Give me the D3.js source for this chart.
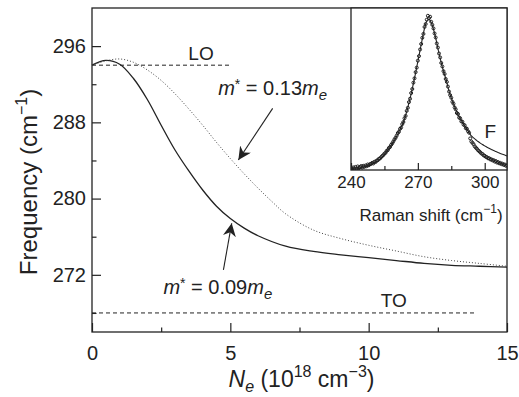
<!DOCTYPE html>
<html>
<head>
<meta charset="utf-8">
<script src="https://cdn.jsdelivr.net/npm/d3@7"></script>
<style>
  body { margin: 0; background: #fff; }
  svg { display: block; font-family: "Liberation Sans", Arial, Helvetica, sans-serif; }
</style>
</head>
<body>
<div id="chart"></div>
<script>
// carrier density (10^18 cm^-3) and coupled mode frequency (cm^-1)
const neSolid = [0, 0.5, 1, 1.5, 2, 2.5, 3, 3.5, 4, 4.5, 5, 5.5, 6, 7, 8, 9, 10, 11, 12, 13, 14, 15];
const fSolid  = [294.0, 294.5, 294.1, 292.6, 290.4, 287.7, 285.1, 282.9, 280.9, 279.2, 277.9, 276.9, 276.1, 275.0, 274.45, 274.1, 273.8, 273.5, 273.2, 273.0, 272.9, 272.8];
const neDot   = [0, 0.5, 1, 1.5, 2, 2.5, 3, 3.5, 4, 4.5, 5, 5.5, 6, 6.5, 7, 8, 9, 10, 11, 12, 13, 14, 15];
const fDot    = [294.0, 294.45, 294.65, 294.3, 293.5, 292.4, 291.0, 289.4, 287.7, 285.9, 284.2, 282.6, 281.1, 279.7, 278.4, 276.7, 275.8, 275.1, 274.5, 273.9, 273.5, 273.2, 272.9];
const LO = 294, TO = 268;
const loEnd = 5, toEnd = 13.9;
const xTicks = [0, 5, 10, 15], xMinor = [2.5, 7.5, 12.5];
const yTicks = [272, 280, 288, 296], yMinor = [268, 276, 284, 292];

// inset: Raman spectrum, fit line F
const fitShift = d3.range(240, 311);
const fitInt = [0.3, 0.4, 0.6, 0.8, 1.0, 1.3, 1.7, 2.1, 2.6, 3.2, 3.9, 4.7, 5.6, 6.7, 8.0, 9.5, 11.2, 13.0, 15.0, 17.2,
  19.6, 22.2, 25.0, 27.8, 31.5, 36.0, 41.5, 47.0, 53.5, 60.0, 67.0, 74.0, 81.0, 87.5, 92.0, 93.0, 91.0, 87.0, 81.5, 75.0,
  69.0, 63.5, 58.8, 54.0, 48.6, 44.5, 40.8, 37.3, 34.3, 31.8, 29.5, 27.3, 25.3, 23.1, 21.0, 19.8, 18.7, 17.6, 16.6, 15.7,
  14.9, 14.1, 13.4, 12.7, 12.0, 11.4, 10.8, 10.2, 9.7, 9.2, 8.7];
const dataShift = d3.range(240, 310.25, 0.5);
const dataInt = [1.2, 0.5, 1.6, 0.8, 1.9, 1.0, 2.2, 1.1, 1.8, 2.4, 1.5, 2.6, 1.9, 2.8, 2.3, 3.4, 2.9, 3.6, 3.8, 4.4,
  4.0, 5.1, 4.9, 5.8, 6.0, 6.9, 7.1, 7.9, 8.6, 9.2, 10.1, 10.6, 11.8, 12.3, 13.6, 14.2, 15.5, 16.4, 17.6, 18.9,
  19.9, 21.2, 22.8, 23.6, 25.4, 26.2, 28.3, 29.6, 31.9, 33.4, 36.5, 38.4, 41.9, 44.0, 47.5, 50.0, 53.9, 56.6, 60.4, 63.2,
  67.5, 70.3, 74.4, 77.8, 81.6, 84.0, 88.3, 90.1, 92.8, 95.2, 93.8, 94.6, 91.5, 89.6, 87.4, 84.3, 81.8, 78.1, 75.6, 71.9,
  69.5, 66.1, 63.9, 61.0, 59.3, 56.2, 54.4, 51.5, 48.4, 46.2, 44.6, 42.1, 40.9, 38.6, 37.4, 35.2, 34.6, 32.4, 31.9, 30.0,
  29.8, 28.0, 27.6, 25.8, 25.5, 23.9, 23.0, 19.5, 17.6, 16.8, 15.9, 14.6, 13.8, 13.1, 12.2, 11.6, 10.9, 10.2, 9.9, 9.0,
  8.8, 8.1, 7.9, 7.2, 7.3, 6.5, 6.6, 5.9, 6.1, 5.2, 5.5, 4.6, 4.9, 4.1, 4.4, 3.6, 3.9, 3.1, 3.4, 2.6, 2.9];
const insetTicks = [240, 270, 300], insetMinor = [255, 285];

const W = 519, H = 397;
const m = {l: 92, r: 507, t: 8, b: 332};
const ink = '#222';

const svg = d3.select('#chart').append('svg').attr('width', W).attr('height', H);

const x = d3.scaleLinear().domain([0, 15]).range([m.l, m.r]);
const y = d3.scaleLinear().domain([266, 300]).range([m.b, m.t]);

svg.append('defs').append('marker')
  .attr('id', 'head').attr('viewBox', '0 0 10 10').attr('refX', 10).attr('refY', 5)
  .attr('markerWidth', 13).attr('markerHeight', 13).attr('markerUnits', 'userSpaceOnUse')
  .attr('orient', 'auto')
  .append('path').attr('d', 'M0,0 L10,5 L0,10 L3,5 Z').attr('fill', ink);

// axes with inward ticks
svg.append('g').attr('transform', `translate(0,${m.b})`)
  .call(d3.axisBottom(x).tickValues(xTicks).tickSize(-9).tickPadding(14).tickFormat(d3.format('d')));
svg.append('g').attr('transform', `translate(0,${m.b})`)
  .call(d3.axisBottom(x).tickValues(xMinor).tickSize(-4.5).tickFormat(''));
svg.append('g').attr('transform', `translate(${m.l},0)`)
  .call(d3.axisLeft(y).tickValues(yTicks).tickSize(-9).tickPadding(6));
svg.append('g').attr('transform', `translate(${m.l},0)`)
  .call(d3.axisLeft(y).tickValues(yMinor).tickSize(-4.5).tickFormat(''));
svg.selectAll('.domain').remove();
svg.selectAll('.tick line').attr('stroke', ink).attr('stroke-width', 1.2);
svg.selectAll('.tick text').attr('font-size', 20).attr('fill', ink).attr('font-family', null);

svg.append('rect').attr('x', m.l).attr('y', m.t).attr('width', m.r - m.l).attr('height', m.b - m.t)
  .attr('fill', 'none').attr('stroke', ink).attr('stroke-width', 1.3);

// LO / TO reference lines
svg.append('line').attr('x1', x(0)).attr('x2', x(loEnd)).attr('y1', y(LO)).attr('y2', y(LO))
  .attr('stroke', ink).attr('stroke-width', 1).attr('stroke-dasharray', '4,3');
svg.append('line').attr('x1', x(0)).attr('x2', x(toEnd)).attr('y1', y(TO)).attr('y2', y(TO))
  .attr('stroke', ink).attr('stroke-width', 1).attr('stroke-dasharray', '4,3');
svg.append('text').attr('x', x(3.94)).attr('y', y(294.55)).attr('text-anchor', 'middle')
  .attr('font-size', 19).attr('fill', ink).text('LO');
svg.append('text').attr('x', x(10.91)).attr('y', y(268.65)).attr('text-anchor', 'middle')
  .attr('font-size', 19).attr('fill', ink).text('TO');

const line = d3.line().x(d => x(d[0])).y(d => y(d[1])).curve(d3.curveCatmullRom);
svg.append('path').datum(neSolid.map((n, i) => [n, fSolid[i]])).attr('d', line)
  .attr('fill', 'none').attr('stroke', ink).attr('stroke-width', 1.3);
svg.append('path').datum(neDot.map((n, i) => [n, fDot[i]])).attr('d', line)
  .attr('fill', 'none').attr('stroke', '#444').attr('stroke-width', 1).attr('stroke-dasharray', '1,2');

// effective mass annotations
function massLabel(n, f, val) {
  const t = svg.append('text').attr('x', x(n)).attr('y', y(f)).attr('font-size', 20).attr('fill', ink);
  t.append('tspan').attr('font-style', 'italic').text('m');
  t.append('tspan').attr('font-size', 14).attr('dy', -6).text('*');
  t.append('tspan').attr('dy', 6).text(' = ' + val);
  t.append('tspan').attr('font-style', 'italic').text('m');
  t.append('tspan').attr('font-style', 'italic').attr('font-size', 15).attr('dy', 5).text('e');
}
massLabel(4.56, 290.86, '0.13');
massLabel(2.58, 270.0, '0.09');
svg.append('line').attr('x1', x(6.53)).attr('y1', y(289.47)).attr('x2', x(5.29)).attr('y2', y(284.05))
  .attr('stroke', ink).attr('stroke-width', 1.1).attr('marker-end', 'url(#head)');
svg.append('line').attr('x1', x(4.75)).attr('y1', y(272.52)).attr('x2', x(5.05)).attr('y2', y(277.41))
  .attr('stroke', ink).attr('stroke-width', 1.1).attr('marker-end', 'url(#head)');

// axis titles
const yt = svg.append('text').attr('transform', 'translate(37,182) rotate(-90)')
  .attr('text-anchor', 'middle').attr('font-size', 24).attr('fill', ink);
yt.append('tspan').text('Frequency (cm');
yt.append('tspan').attr('font-size', 16).attr('dy', -10).text('\u22121');
yt.append('tspan').attr('dy', 10).text(')');

const xt = svg.append('text').attr('x', (m.l + m.r) / 2 + 2).attr('y', 387)
  .attr('text-anchor', 'middle').attr('font-size', 23).attr('fill', ink);
xt.append('tspan').attr('font-style', 'italic').text('N');
xt.append('tspan').attr('font-style', 'italic').attr('font-size', 16).attr('dy', 5).text('e');
xt.append('tspan').attr('dy', -5).text(' (10');
xt.append('tspan').attr('font-size', 16).attr('dy', -10).text('18');
xt.append('tspan').attr('dy', 10).text(' cm');
xt.append('tspan').attr('font-size', 16).attr('dy', -10).text('\u22123');
xt.append('tspan').attr('dy', 10).text(')');

// inset
const ins = {l: 351, r: 507, t: 8, b: 170};
const ix = d3.scaleLinear().domain([240, 310]).range([ins.l, ins.r]);
const iy = d3.scaleLinear().domain([0, 100]).range([ins.b, ins.t]);

svg.append('rect').attr('x', ins.l).attr('y', ins.t).attr('width', ins.r - ins.l).attr('height', ins.b - ins.t)
  .attr('fill', '#fff').attr('stroke', ink).attr('stroke-width', 1.3);
svg.select('defs').append('clipPath').attr('id', 'insclip')
  .append('rect').attr('x', ins.l).attr('y', ins.t).attr('width', ins.r - ins.l).attr('height', ins.b - ins.t);

const gi = svg.append('g').attr('clip-path', 'url(#insclip)');
gi.selectAll('circle').data(dataShift.map((s, i) => [s, dataInt[i]])).enter().append('circle')
  .attr('cx', d => ix(d[0])).attr('cy', d => iy(d[1])).attr('r', 1.5)
  .attr('fill', 'none').attr('stroke', '#222').attr('stroke-width', 1);
gi.append('path').datum(fitShift.map((s, i) => [s, fitInt[i]]))
  .attr('d', d3.line().x(d => ix(d[0])).y(d => iy(d[1])).curve(d3.curveCatmullRom))
  .attr('fill', 'none').attr('stroke', ink).attr('stroke-width', 1.1);

const ia = svg.append('g').attr('transform', `translate(0,${ins.b})`)
  .call(d3.axisBottom(ix).tickValues(insetTicks).tickSize(-7).tickPadding(6));
const ib = svg.append('g').attr('transform', `translate(0,${ins.b})`)
  .call(d3.axisBottom(ix).tickValues(insetMinor).tickSize(-4).tickFormat(''));
ia.select('.domain').remove(); ib.select('.domain').remove();
svg.selectAll('.tick line').attr('stroke', ink).attr('stroke-width', 1.2);
ia.selectAll('.tick text').attr('font-size', 17).attr('fill', ink).attr('font-family', null);

svg.append('text').attr('x', ix(299.9)).attr('y', iy(20)).attr('font-size', 19).attr('fill', ink).text('F');

const rt = svg.append('text').attr('x', 431).attr('y', 221).attr('text-anchor', 'middle')
  .attr('font-size', 17).attr('fill', ink);
rt.append('tspan').text('Raman shift (cm');
rt.append('tspan').attr('font-size', 12).attr('dy', -8).text('\u22121');
rt.append('tspan').attr('dy', 8).text(')');
</script>
</body>
</html>
